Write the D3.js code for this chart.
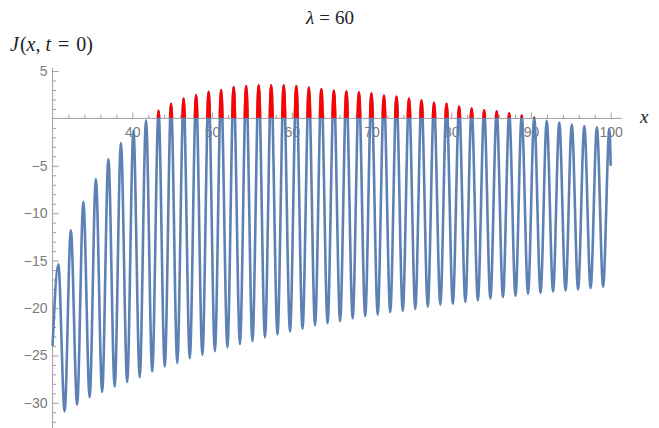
<!DOCTYPE html>
<html>
<head>
<meta charset="utf-8">
<script src="https://cdn.jsdelivr.net/npm/d3@7"></script>
<style>
  body { margin: 0; background: #fff; }
  svg { display: block; }
</style>
</head>
<body>
<div id="chart"></div>
<script>
// maxima of J(x, t=0)
const peakX = [30.72, 32.29, 33.86, 35.43, 37.00, 38.57, 40.14, 41.72, 43.29, 44.86,
  46.43, 48.00, 49.57, 51.14, 52.71, 54.28, 55.85, 57.42, 58.99, 60.57,
  62.14, 63.71, 65.28, 66.85, 68.42, 69.99, 71.56, 73.13, 74.70, 76.27,
  77.84, 79.41, 80.99, 82.56, 84.13, 85.70, 87.27, 88.84, 90.41, 91.98,
  93.55, 95.12, 96.69, 98.27, 99.84]
const peakY = [-15.4, -11.8, -8.8, -6.4, -4.3, -2.6, -1.3, -0.2, 0.8, 1.55,
  2.1, 2.45, 2.8, 3.0, 3.3, 3.4, 3.5, 3.5, 3.5, 3.4,
  3.25, 3.1, 2.95, 2.85, 2.75, 2.65, 2.4, 2.3, 2.1, 1.9,
  1.65, 1.55, 1.25, 1.05, 0.85, 0.75, 0.55, 0.3, 0.1, -0.25,
  -0.45, -0.65, -0.8, -0.95, -1.1]

// minima
const troughX = [31.51, 33.08, 34.65, 36.22, 37.79, 39.36, 40.93, 42.50, 44.07, 45.64,
  47.21, 48.79, 50.36, 51.93, 53.50, 55.07, 56.64, 58.21, 59.78, 61.35,
  62.92, 64.49, 66.06, 67.64, 69.21, 70.78, 72.35, 73.92, 75.49, 77.06,
  78.63, 80.20, 81.77, 83.34, 84.91, 86.49, 88.06, 89.63, 91.20, 92.77,
  94.34, 95.91, 97.48, 99.05]
const troughY = [-30.9, -30.2, -29.4, -28.85, -28.3, -27.8, -27.3, -26.7, -26.2, -25.8,
  -25.3, -24.95, -24.55, -24.15, -23.8, -23.5, -23.1, -22.8, -22.5, -22.2,
  -21.85, -21.6, -21.4, -21.1, -20.85, -20.7, -20.45, -20.3, -20.1, -19.85,
  -19.65, -19.55, -19.35, -19.2, -19.0, -18.85, -18.7, -18.5, -18.4, -18.25,
  -18.15, -18.05, -17.9, -17.75]

const startPoint = [30, -24]
const endPoint = [100, -5]

const xMajor = [40, 50, 60, 70, 80, 90, 100]
const xMinor = [32, 34, 36, 38, 42, 44, 46, 48, 52, 54, 56, 58, 62, 64, 66, 68,
  72, 74, 76, 78, 82, 84, 86, 88, 92, 94, 96, 98]
const yMajor = [5, -5, -10, -15, -20, -25, -30]
const yMinor = [4, 3, 2, 1, -1, -2, -3, -4, -6, -7, -8, -9, -11, -12, -13, -14,
  -16, -17, -18, -19, -21, -22, -23, -24, -26, -27, -28, -29, -31, -32]

const width = 659
const height = 428

const svg = d3.select('#chart')
  .append('svg')
  .attr('width', width)
  .attr('height', height)

const x = d3.scaleLinear().domain([40, 100]).range([132.3, 610.7])
const y = d3.scaleLinear().domain([-30, 5]).range([402.8, 71])

const axisColor = '#a0a0a0'
const labelColor = '#7b7b7b'
const minus = v => (v < 0 ? '\u2212' + Math.abs(v) : String(v))

// axis lines
svg.append('line')
  .attr('x1', x(30)).attr('x2', x(101.4))
  .attr('y1', y(0)).attr('y2', y(0))
  .attr('stroke', axisColor).attr('stroke-width', 1)
svg.append('line')
  .attr('x1', x(30)).attr('x2', x(30))
  .attr('y1', y(5.35)).attr('y2', height)
  .attr('stroke', axisColor).attr('stroke-width', 1)

// x ticks point up, labels below
svg.append('g')
  .attr('transform', 'translate(0,' + y(0) + ')')
  .call(d3.axisBottom(x).tickValues(xMajor).tickSize(-6).tickPadding(9).tickFormat(minus))
svg.append('g')
  .attr('transform', 'translate(0,' + y(0) + ')')
  .call(d3.axisBottom(x).tickValues(xMinor).tickSize(-3.5).tickFormat(''))

// y ticks point right, labels on the left
svg.append('g')
  .attr('transform', 'translate(' + x(30) + ',0)')
  .call(d3.axisLeft(y).tickValues(yMajor).tickSize(-6).tickPadding(5).tickFormat(minus))
svg.append('g')
  .attr('transform', 'translate(' + x(30) + ',0)')
  .call(d3.axisLeft(y).tickValues(yMinor).tickSize(-3.5).tickFormat(''))

svg.selectAll('.domain').remove()
svg.selectAll('.tick line').attr('stroke', axisColor)
svg.selectAll('.tick text')
  .attr('fill', labelColor)
  .style('font-family', '"Liberation Sans", Arial, sans-serif')
  .style('font-size', '14px')

// the curve: extrema joined in order
const points = [startPoint]
  .concat(peakX.map((d, i) => [d, peakY[i]]))
  .concat(troughX.map((d, i) => [d, troughY[i]]))
  .concat([endPoint])
  .sort((a, b) => a[0] - b[0])

const line = d3.line()
  .x(d => x(d[0]))
  .y(d => y(d[1]))
  .curve(d3.curveMonotoneX)

const area = d3.area()
  .x(d => x(d[0]))
  .y0(y(0))
  .y1(d => y(d[1]))
  .curve(d3.curveMonotoneX)

svg.append('clipPath')
  .attr('id', 'above')
  .append('rect')
  .attr('x', 0).attr('y', 0)
  .attr('width', width).attr('height', y(0) - 0.6)

svg.append('path')
  .datum(points)
  .attr('d', line)
  .attr('fill', 'none')
  .attr('stroke', '#5e81b5')
  .attr('stroke-width', 2.6)
  .attr('stroke-linejoin', 'round')

const positive = svg.append('g').attr('clip-path', 'url(#above)')
positive.append('path')
  .datum(points)
  .attr('d', area)
  .attr('fill', '#ff0000')
positive.append('path')
  .datum(points)
  .attr('d', line)
  .attr('fill', 'none')
  .attr('stroke', '#ff0000')
  .attr('stroke-width', 2.6)

// titles, with wider spacing round "=" as in TeX
const serif = '"Liberation Serif", "Times New Roman", serif'

const title = svg.append('text')
  .attr('x', 330)
  .attr('y', 24)
  .attr('text-anchor', 'middle')
  .style('font-family', serif)
  .style('font-size', '19px')
  .attr('fill', '#222')
title.append('tspan').style('font-style', 'italic').text('\u03bb')
title.append('tspan').attr('dx', 5).text('=')
title.append('tspan').attr('dx', 5).text('60')

const yLabel = svg.append('text')
  .attr('x', 10)
  .attr('y', 51)
  .style('font-family', serif)
  .style('font-size', '20px')
  .attr('fill', '#222')
yLabel.append('tspan').style('font-style', 'italic').text('J')
yLabel.append('tspan').attr('dx', 1).text('(')
yLabel.append('tspan').style('font-style', 'italic').text('x')
yLabel.append('tspan').text(',')
yLabel.append('tspan').attr('dx', 5).style('font-style', 'italic').text('t')
yLabel.append('tspan').attr('dx', 7).text('=')
yLabel.append('tspan').attr('dx', 7).text('0)')

svg.append('text')
  .attr('x', 640)
  .attr('y', 123)
  .style('font-family', serif)
  .style('font-size', '19px')
  .style('font-style', 'italic')
  .attr('fill', '#222')
  .text('x')
</script>
</body>
</html>
